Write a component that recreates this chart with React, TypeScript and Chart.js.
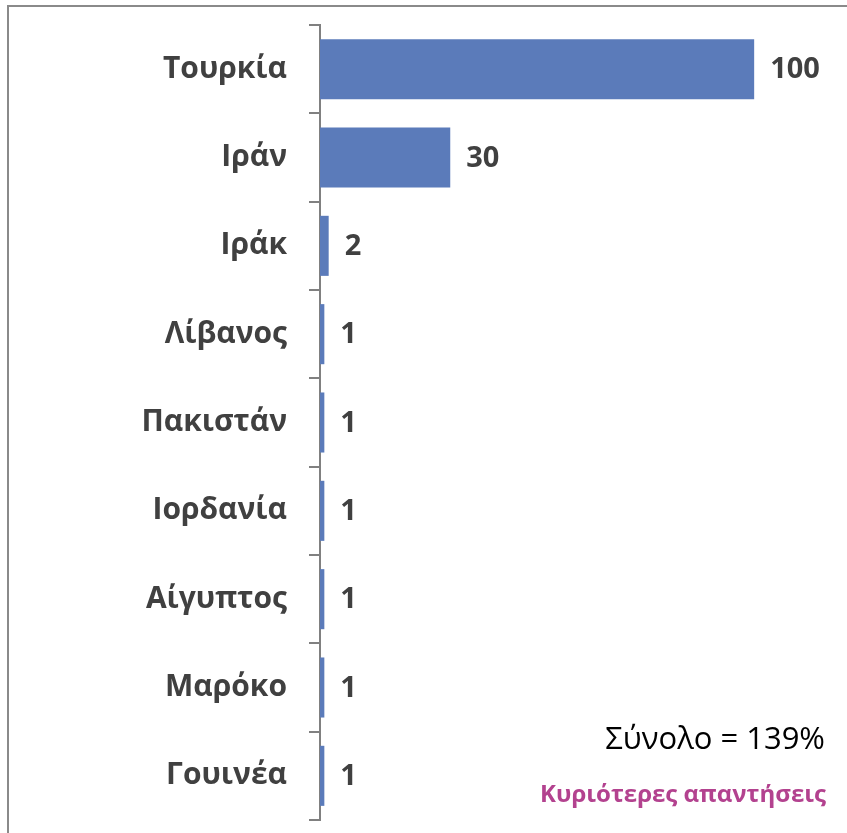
import React, { useEffect, useRef } from "react";
import { Chart, registerables } from "chart.js";

Chart.register(...registerables);

const categories: string[] = [
  "Τουρκία",
  "Ιράν",
  "Ιράκ",
  "Λίβανος",
  "Πακιστάν",
  "Ιορδανία",
  "Αίγυπτος",
  "Μαρόκο",
  "Γουινέα",
];
const values: number[] = [100, 30, 2, 1, 1, 1, 1, 1, 1];
const totalText = "Σύνολο = 139%";
const noteText = "Κυριότερες απαντήσεις";

const FONT = "'Open Sans', 'Noto Sans', sans-serif";
const TEXT_COLOR = "#404040";
const BAR_COLOR = "#5b7bba";
const AXIS_COLOR = "#808080";

export default function App() {
  const canvasRef = useRef<HTMLCanvasElement | null>(null);

  useEffect(() => {
    const canvas = canvasRef.current;
    if (!canvas) return;

    const overlay = {
      id: "overlayText",
      afterDatasetsDraw(chart: any) {
        const ctx = chart.ctx;
        const meta = chart.getDatasetMeta(0);
        ctx.save();
        ctx.fillStyle = TEXT_COLOR;
        ctx.font = `bold 29px ${FONT}`;
        ctx.textAlign = "left";
        ctx.textBaseline = "middle";
        meta.data.forEach((bar: any, i: number) => {
          ctx.fillText(String(values[i]), bar.x + 16, bar.y + 1);
        });
        ctx.textAlign = "right";
        ctx.textBaseline = "alphabetic";
        ctx.fillStyle = "#000000";
        ctx.font = `31px ${FONT}`;
        ctx.fillText(totalText, 825, 749);
        ctx.fillStyle = "#b3428f";
        ctx.font = `bold 24px ${FONT}`;
        ctx.fillText(noteText, 826, 802);
        ctx.restore();
      },
    };

    const chart = new Chart(canvas, {
      type: "bar",
      data: {
        labels: categories,
        datasets: [
          {
            data: values,
            backgroundColor: BAR_COLOR,
            borderWidth: 0,
            barPercentage: 0.68,
            categoryPercentage: 1,
          },
        ],
      },
      options: {
        indexAxis: "y",
        animation: false,
        responsive: false,
        maintainAspectRatio: false,
        layout: { padding: { top: 25, bottom: 13, right: 6, left: 0 } },
        plugins: {
          legend: { display: false },
          tooltip: { enabled: false },
          title: { display: false },
        },
        scales: {
          x: {
            display: false,
            min: 0,
            max: 120,
          },
          y: {
            type: "category",
            afterFit: (scale: any) => {
              scale.width = 320;
              scale.paddingTop = 0;
              scale.paddingBottom = 0;
            },
            grid: {
              offset: true,
              drawOnChartArea: false,
              drawTicks: true,
              tickLength: 11,
              color: AXIS_COLOR,
              lineWidth: 2,
            },
            border: { display: true, color: AXIS_COLOR, width: 2 },
            ticks: {
              color: TEXT_COLOR,
              font: { family: FONT, size: 30, weight: "bold" },
              padding: 22,
            },
          },
        },
      },
      plugins: [overlay],
    });

    return () => chart.destroy();
  }, []);

  return (
    <div
      style={{
        position: "fixed",
        left: 0,
        top: 0,
        width: 847,
        height: 833,
        overflow: "hidden",
        background: "#ffffff",
      }}
    >
      <div
        style={{
          position: "absolute",
          left: 7,
          top: 5,
          width: 1000,
          height: 1000,
          border: "2px solid #8a8a8a",
        }}
      />
      <canvas
        ref={canvasRef}
        width={847}
        height={833}
        style={{ position: "absolute", left: 0, top: 0, width: 847, height: 833 }}
      />
    </div>
  );
}
